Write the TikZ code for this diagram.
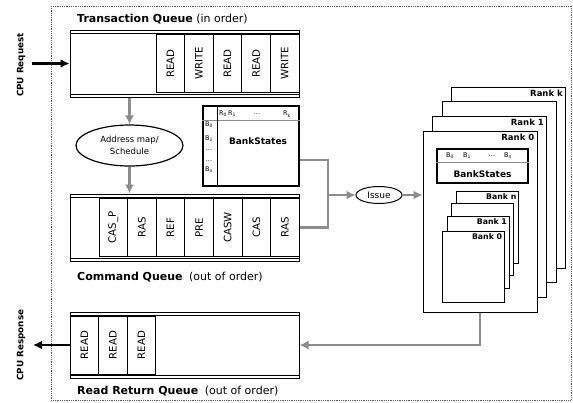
\documentclass[tikz,border=0pt]{standalone}
\usepackage{fontspec}
\setmainfont{DejaVu Sans}
\usepackage{graphicx}
\usetikzlibrary{shapes.geometric,positioning,arrows.meta}
\definecolor{linkgray}{RGB}{140,140,140}
\newcommand{\vlabel}[1]{\rotatebox{90}{#1}}

\begin{document}
\begin{tikzpicture}[
                        x=1pt, y=-1pt,
                        node distance=28.6pt,
                        >={Latex[length=9pt,width=9pt]},
                        queue/.style={rectangle, draw, line width=1pt, minimum width=229pt, inner sep=0pt},
                        cell/.style={rectangle, draw, line width=0.8pt, minimum width=28.6pt, minimum height=58pt, inner sep=0pt, font=\fontsize{10.2}{12}\selectfont},
                        caption/.style={anchor=base west, inner sep=0pt, font=\fontsize{11}{13}\selectfont},
                        side/.style={rotate=90, inner sep=0pt, font=\bfseries\fontsize{8.8}{10}\selectfont},
                        bus/.style={draw=linkgray, line width=2.5pt},
                        cpu/.style={line width=2.5pt},
                        rankbox/.style={rectangle, draw, fill=white, line width=1pt, minimum width=114pt, minimum height=181pt},
                        bankbox/.style={rectangle, draw, fill=white, line width=1pt, minimum width=62pt, minimum height=72pt},
                        idx/.style={inner sep=0pt, font=\fontsize{6.5}{7}\selectfont}
                    ]
                    \useasboundingbox (0,0) rectangle (573,402);
                    % Controller frame
                    \draw [black!65, line width=0.9pt, dash pattern=on 0.9pt off 0.9pt] (51,6) rectangle (571,400);

                    % Transaction queue
                    \node [caption] (tqcap) at (77,22) {\textbf{Transaction Queue} (in order)};
                    \node [queue, minimum height=67pt] (tq) at (184.5,63.5) {};
                    \draw [thin] ([yshift=-3.5pt]tq.north west) -- ([yshift=-3.5pt]tq.north east);
                    \draw [thin] ([yshift=3.5pt]tq.south west) -- ([yshift=3.5pt]tq.south east);
                    \node [cell] (tq1) at (170.3,63.5) {\vlabel{READ}};
                    \node [cell,right of=tq1] (tq2) {\vlabel{WRITE}};
                    \node [cell,right of=tq2] (tq3) {\vlabel{READ}};
                    \node [cell,right of=tq3] (tq4) {\vlabel{READ}};
                    \node [cell,right of=tq4] (tq5) {\vlabel{WRITE}};

                    % Address mapping and bank states
                    \node [ellipse, draw, line width=1.2pt, minimum width=107pt, minimum height=41pt, inner sep=0pt, align=center, font=\fontsize{8.5}{12}\selectfont] (amap) at (129.5,145.5) {Address map/\\Schedule};
                    \node [rectangle, draw, line width=1.1pt, minimum width=96pt, minimum height=80pt] (bs) at (251,146) {};
                    \draw [linkgray, thin] ([yshift=-15pt]bs.north west) -- ([yshift=-15pt]bs.north east);
                    \draw [thin] ([xshift=15pt]bs.north west) -- ([xshift=15pt]bs.south west);
                    \node [font=\bfseries\fontsize{9}{11}\selectfont] (bstxt) at (258,141) {BankStates};
                    \node [idx] (r0) at (223,114) {R\textsubscript{0}};
                    \node [idx] (r1) at (232,114) {R\textsubscript{1}};
                    \node [idx] (rdots) at (257,114) {...};
                    \node [idx] (rk) at (287,114) {R\textsubscript{k}};
                    \node [idx] (b0) at (209,125) {B\textsubscript{0}};
                    \node [idx] (b1) at (209,139) {B\textsubscript{1}};
                    \node [idx] (bdots1) at (209,150) {...};
                    \node [idx] (bdots2) at (209,161) {...};
                    \node [idx] (bn) at (209,170) {B\textsubscript{n}};

                    % Command queue
                    \node [queue, minimum height=67pt] (cq) at (184.5,227.5) {};
                    \draw [thin] ([yshift=-3.5pt]cq.north west) -- ([yshift=-3.5pt]cq.north east);
                    \draw [thin] ([yshift=3.5pt]cq.south west) -- ([yshift=3.5pt]cq.south east);
                    \node [cell] (cq1) at (113.3,227.5) {\vlabel{CAS\_P}};
                    \node [cell,right of=cq1] (cq2) {\vlabel{RAS}};
                    \node [cell,right of=cq2] (cq3) {\vlabel{REF}};
                    \node [cell,right of=cq3] (cq4) {\vlabel{PRE}};
                    \node [cell,right of=cq4] (cq5) {\vlabel{CASW}};
                    \node [cell,right of=cq5] (cq6) {\vlabel{CAS}};
                    \node [cell,right of=cq6] (cq7) {\vlabel{RAS}};
                    \node [caption] (cqcap) at (77,280) {\textbf{Command Queue}\hspace{3pt} (out of order)};

                    % Read return queue
                    \node [queue, minimum height=66pt] (rrq) at (184.5,345) {};
                    \draw [thin] ([yshift=-3.5pt]rrq.north west) -- ([yshift=-3.5pt]rrq.north east);
                    \draw [thin] ([yshift=3.5pt]rrq.south west) -- ([yshift=3.5pt]rrq.south east);
                    \node [cell] (rr1) at (84.3,345) {\vlabel{READ}};
                    \node [cell,right of=rr1] (rr2) {\vlabel{READ}};
                    \node [cell,right of=rr2] (rr3) {\vlabel{READ}};
                    \node [caption] (rrcap) at (77,394) {\textbf{Read Return Queue}\hspace{3pt} (out of order)};

                    % Ranks, back to front
                    \node [rankbox, label={[anchor=north east, inner sep=3pt, font=\bfseries\fontsize{8.5}{10}\selectfont]north east:Rank k}] (rankk) at (508.5,177.5) {};
                    \node [rankbox] (rank2) at ([shift={(-9.5,14.8)}]rankk) {};
                    \node [rankbox, label={[anchor=north east, inner sep=3pt, font=\bfseries\fontsize{8.5}{10}\selectfont]north east:Rank 1}] (rank1) at ([shift={(-9.5,14.8)}]rank2) {};
                    \node [rankbox, label={[anchor=north east, inner sep=3pt, font=\bfseries\fontsize{8.5}{10}\selectfont]north east:Rank 0}] (rank0) at ([shift={(-9.5,14.8)}]rank1) {};

                    % Rank 0 contents
                    \node [rectangle, draw, line width=1.2pt, minimum width=91pt, minimum height=34pt] (rbs) at (482.5,166) {};
                    \draw [linkgray, thin] ([yshift=-14pt]rbs.north west) -- ([yshift=-14pt]rbs.north east);
                    \node [idx] (rb0) at (450,156) {B\textsubscript{0}};
                    \node [idx] (rb1) at (467,156) {B\textsubscript{1}};
                    \node [idx] (rbdots) at (492,156) {...};
                    \node [idx] (rbn) at (508,156) {B\textsubscript{n}};
                    \node [font=\bfseries\fontsize{9}{11}\selectfont] (rbstxt) at (482.5,174) {BankStates};
                    \node [bankbox, label={[anchor=north east, inner sep=2.5pt, font=\bfseries\fontsize{7.8}{9}\selectfont]north east:Bank n}] (bankn) at (487.5,227.5) {};
                    \node [bankbox] (bank2) at ([shift={(-4.7,12.3)}]bankn) {};
                    \node [bankbox, label={[anchor=north east, inner sep=2.5pt, font=\bfseries\fontsize{7.8}{9}\selectfont]north east:Bank 1}] (bank1) at ([shift={(-4.7,12.3)}]bank2) {};
                    \node [bankbox, minimum height=71pt, label={[anchor=north east, inner sep=2.5pt, font=\bfseries\fontsize{7.8}{9}\selectfont]north east:Bank 0}] (bank0) at ([shift={(-4.8,14.5)}]bank1) {};

                    % Issue
                    \node [ellipse, draw, line width=1pt, minimum width=46pt, minimum height=17pt, inner sep=0pt, font=\fontsize{9}{10}\selectfont] (issue) at (379,195) {Issue};
                    \coordinate (merge) at (328,195);

                    % CPU side
                    \node [side] (reqlbl) at (21,65) {CPU Request};
                    \node [side] (resplbl) at (21,345) {CPU Response};
                    \coordinate (req) at (32,63.5);
                    \coordinate (resp) at (33,345);

                    % Connections
                    \draw [cpu,->] (req) -- (tq.west);
                    \draw [cpu,->] (rrq.west) -- (resp);
                    \draw [bus,->] (amap.north |- tq.south) -- (amap.north);
                    \draw [bus,->] (amap.south) -- (amap.south |- cq.north);
                    \draw [bus] ([yshift=-14pt]bs.east) -| (merge);
                    \draw [bus] (cq.east) -| (merge);
                    \draw [bus,->] (merge) -- (issue);
                    \draw [bus,->] (issue) -- (issue -| rank0.west);
                    \draw [bus,->] (rank0.south) |- (rrq.east);
                \end{tikzpicture}
\end{document}
